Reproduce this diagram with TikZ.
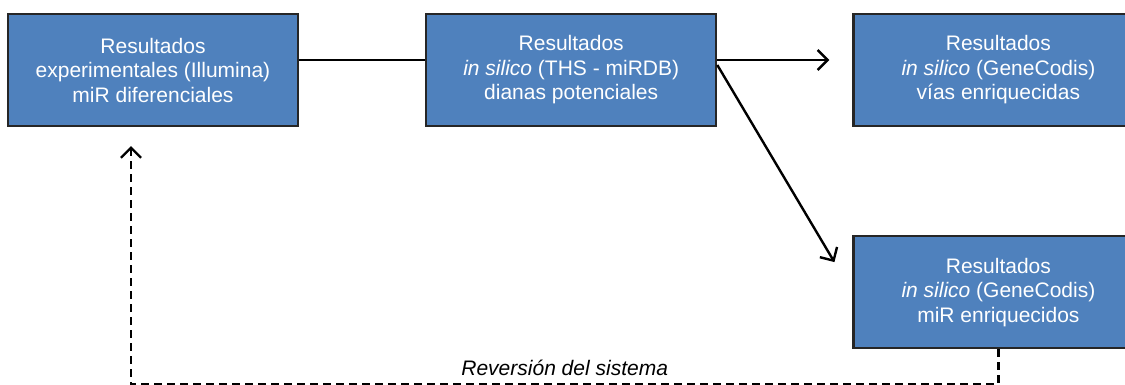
\documentclass[tikz,border=0pt]{standalone}
\usepackage{fontspec}
\setmainfont{Liberation Sans}
\usepackage{xcolor}
\usetikzlibrary{arrows.meta, positioning}

\definecolor{boxblue}{HTML}{4F81BD}

\begin{document}
\begin{tikzpicture}[
            x=1pt, y=1pt,
            node distance=126pt,
            res/.style={rectangle, draw=black!85, line width=2.2pt, fill=boxblue,
                text=white, align=center, minimum width=290pt, minimum height=112pt,
                font=\fontsize{21}{24.5}\selectfont},
            link/.style={line width=2.4pt},
            arr/.style={link, -{Straight Barb[length=10pt, width=20pt, line width=2.4pt]}}
        ]
        \clip (0,0) rectangle (1125,-385);

        % Upper row
        \node[res] (exp) at (153,-70) {Resultados\\experimentales (Illumina)\\miR diferenciales};
        \node[res, right=of exp] (ths) {Resultados\\\textit{in silico} (THS - miRDB)\\dianas potenciales};
        \node[res, right=135pt of ths] (vias) {Resultados\\\textit{in silico} (GeneCodis)\\vías enriquecidas};

        % Lower box
        \node[res, below=108pt of vias] (mir) {Resultados\\\textit{in silico} (GeneCodis)\\miR enriquecidos};

        % Connections
        \draw[link] ([yshift=10pt]exp.east) -- ([yshift=10pt]ths.west);
        \draw[arr, shorten >=23pt] ([yshift=10pt]ths.east) -- ([yshift=10pt]vias.west);
        \draw[arr, shorten >=35pt] ([yshift=5pt]ths.east) -- (mir.west);

        % Feedback
        \draw[arr, dash pattern=on 8pt off 5pt] (mir.south) -- ++(0,-35) coordinate (turn)
            -| node[pos=0.25, above=4pt, font=\fontsize{21}{24.5}\selectfont\itshape] (rev) {Reversión del sistema}
            ([xshift=-22pt, yshift=-19pt]exp.south);

    \end{tikzpicture}
\end{document}
